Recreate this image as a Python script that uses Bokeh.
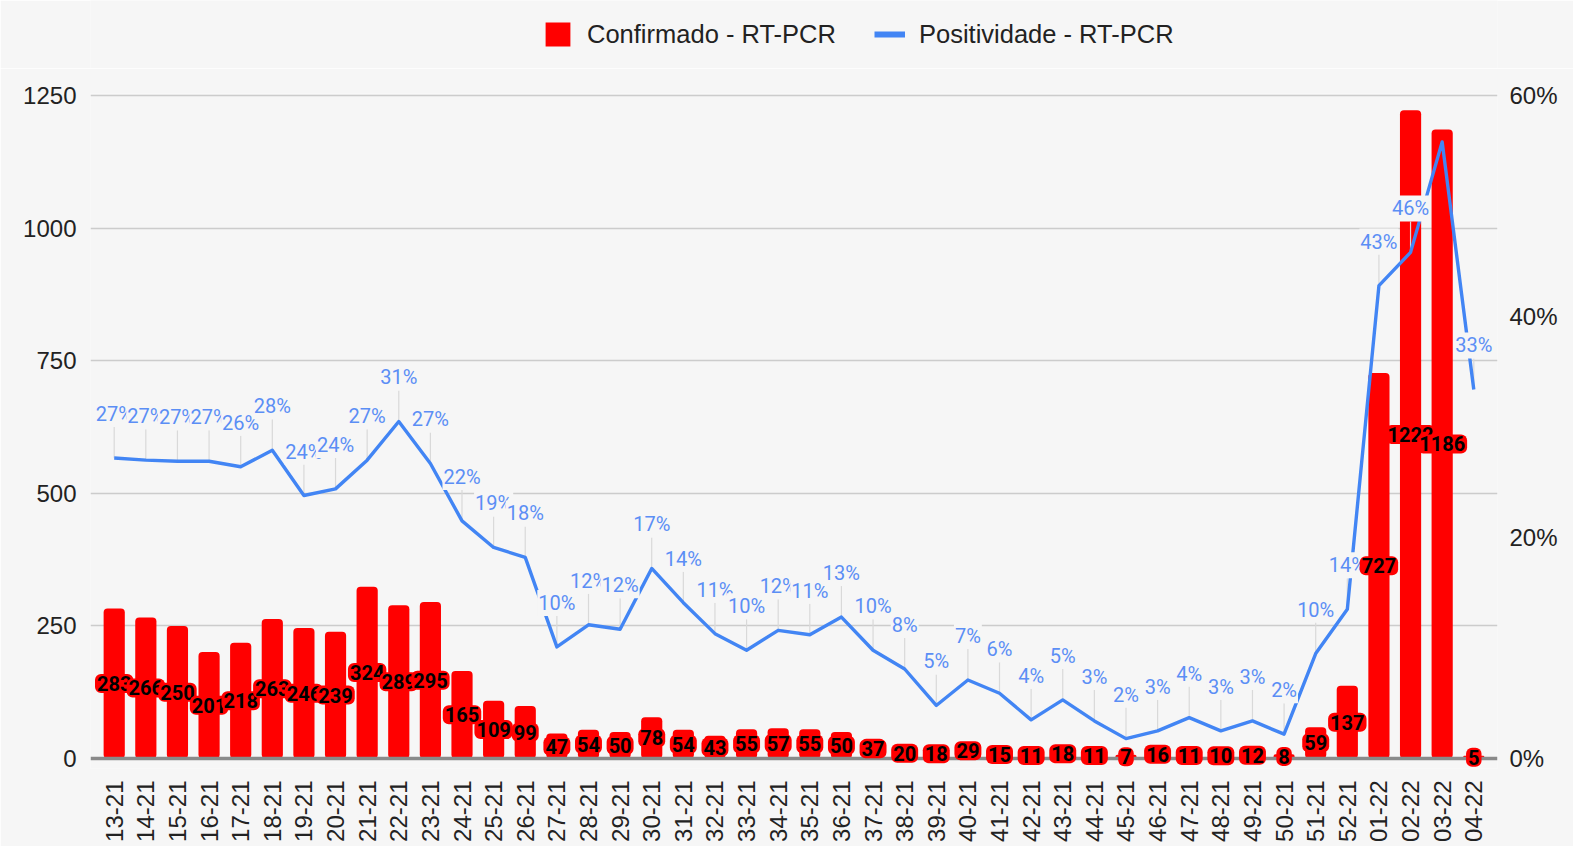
import math
from bokeh.plotting import figure
from bokeh.layouts import column
from bokeh.models import (ColumnDataSource, FactorRange, Range1d, LinearAxis, FixedTicker,
                          PrintfTickFormatter, Legend, LegendItem)
from bokeh.core.properties import value
from bokeh.embed import file_html
from bokeh.resources import INLINE

# ---------------- data ----------------
weeks = ["13-21", "14-21", "15-21", "16-21", "17-21", "18-21", "19-21", "20-21", "21-21", "22-21",
         "23-21", "24-21", "25-21", "26-21", "27-21", "28-21", "29-21", "30-21", "31-21", "32-21",
         "33-21", "34-21", "35-21", "36-21", "37-21", "38-21", "39-21", "40-21", "41-21", "42-21",
         "43-21", "44-21", "45-21", "46-21", "47-21", "48-21", "49-21", "50-21", "51-21", "52-21",
         "01-22", "02-22", "03-22", "04-22"]

confirmados = [283, 266, 250, 201, 218, 263, 246, 239, 324, 289,
               295, 165, 109, 99, 47, 54, 50, 78, 54, 43,
               55, 57, 55, 50, 37, 20, 18, 29, 15, 11,
               18, 11, 7, 16, 11, 10, 12, 8, 59, 137,
               727, 1222, 1186, 5]

positividade = [27.2, 27.0, 26.9, 26.9, 26.4, 27.9, 23.8, 24.4, 27.0, 30.5,
                26.7, 21.5, 19.1, 18.2, 10.1, 12.1, 11.7, 17.2, 14.1, 11.3,
                9.8, 11.6, 11.2, 12.8, 9.8, 8.1, 4.8, 7.1, 5.9, 3.5,
                5.3, 3.4, 1.8, 2.5, 3.7, 2.5, 3.4, 2.2, 9.5, 13.5,
                42.8, 45.8, 55.8, 33.4]

hidden_pct_labels = ["03-22"]

left_ticks = [0, 250, 500, 750, 1000, 1250]
right_ticks = [0, 20, 40, 60]

series_names = ["Confirmado - RT-PCR", "Positividade - RT-PCR"]

# ---------------- style ----------------
BG = "#f6f6f6"
RED = "#ff0000"
BLUE = "#4285f4"
LABEL_BLUE = "#5b8ef5"
AXIS_FONT = "Liberation Sans"
ANN_FONT = "Roboto"

W = 1573
LEG_H = 68
H = 778
PAD = 1.003            # tiny headroom so the top gridline is visible
EXTRA = 10             # px of frame below the baseline so small labels are not clipped
DATA_H = 665           # px from baseline to top of the frame
ML, MR, MT = 90, 76, 25
MB = H - MT - DATA_H - EXTRA
left_top = left_ticks[-1] * PAD
right_top = right_ticks[-1] * PAD
px_per_unit = DATA_H / left_top
px_per_pct = DATA_H / right_top
stem_px = 31

p = figure(x_range=FactorRange(*weeks, range_padding=0.25, range_padding_units="absolute"),
           y_range=Range1d(-EXTRA / px_per_unit, left_top),
           width=W, height=H, output_backend="svg", toolbar_location=None,
           min_border_left=ML, min_border_right=MR, min_border_top=MT, min_border_bottom=MB,
           background_fill_color=BG, border_fill_color=BG, outline_line_color=None)

p.extra_y_ranges = {"pct": Range1d(-EXTRA / px_per_pct, right_top)}

# grid
p.xgrid.grid_line_color = None
p.ygrid.ticker = FixedTicker(ticks=left_ticks[1:])
p.ygrid.grid_line_color = "#cccccc"
p.ygrid.grid_line_width = 1.6

# axes
for ax in [p.xaxis[0], p.yaxis[0]]:
    ax.axis_line_color = None
    ax.major_tick_line_color = None
    ax.minor_tick_line_color = None
    ax.major_label_text_font = AXIS_FONT
    ax.major_label_text_font_size = "24px"
    ax.major_label_text_color = "#222222"
p.yaxis[0].ticker = FixedTicker(ticks=left_ticks)
p.yaxis[0].major_label_standoff = 8
p.xaxis[0].major_label_orientation = math.pi / 2
p.xaxis[0].major_label_standoff = 16 - EXTRA

raxis = LinearAxis(y_range_name="pct", ticker=FixedTicker(ticks=right_ticks),
                   formatter=PrintfTickFormatter(format="%d%%"))
raxis.axis_line_color = None
raxis.major_tick_line_color = None
raxis.minor_tick_line_color = None
raxis.major_label_text_font = AXIS_FONT
raxis.major_label_text_font_size = "24px"
raxis.major_label_text_color = "#222222"
raxis.major_label_standoff = 6
p.add_layout(raxis, "right")

# bars
src = ColumnDataSource(dict(
    x=weeks, conf=confirmados, half=[v / 2 for v in confirmados],
    conf_lbl=[str(v) for v in confirmados],
))
p.vbar(x="x", top="conf", bottom=0, width=0.67, source=src, fill_color=RED, line_color=None,
       border_radius=4)

# baseline (glyph, so labels can be drawn above it)
p.hspan(y=[0], line_color="#8a8a8a", line_width=3.5)

# stems for positivity labels
stem_units = stem_px / px_per_pct
sx = [w for w in weeks if w not in hidden_pct_labels]
sy0 = [v for w, v in zip(weeks, positividade) if w not in hidden_pct_labels]
sy1 = [v + stem_units for v in sy0]
p.segment(x0=sx, y0=sy0, x1=sx, y1=sy1, y_range_name="pct", line_color="#d9d9d9", line_width=1.2)

# line
p.line(x=weeks, y=positividade, y_range_name="pct", line_color=BLUE, line_width=3.4,
       line_join="round")

# positivity labels
pct_src = ColumnDataSource(dict(
    x=sx, y=sy0,
    lbl=[f"{int(v + 0.5)}%" for v in sy0],
))
p.text(x="x", y="y", text="lbl", source=pct_src, y_range_name="pct",
       y_offset=-44, text_align="center", text_baseline="middle",
       text_font=value(ANN_FONT), text_font_size="20px", text_color=LABEL_BLUE,
       background_fill_color=BG, padding=1)

# bar value labels
p.text(x="x", y="half", text="conf_lbl", source=src,
       text_align="center", text_baseline="middle",
       text_font=value(ANN_FONT), text_font_size="20px", text_font_style="bold",
       text_color="#000000", background_fill_color=RED, padding=2, border_radius=6)

# ---------------- legend strip ----------------
lf = figure(width=W, height=LEG_H, x_range=(0, 1), y_range=(0, 1),
            output_backend="svg", toolbar_location=None, min_border=0,
            background_fill_color=BG, border_fill_color=BG, outline_line_color=None)
lf.axis.visible = False
lf.grid.grid_line_color = None
# swatch renderers placed outside the visible range (only their legend swatch shows)
dummy_bar = lf.vbar(x=[-10], top=[-10], width=0.5, fill_color=RED, line_color=None,
                    border_radius=3)
dummy_line = lf.line(x=[-10, -9], y=[-10, -10], line_color=BLUE, line_width=6)
legend = Legend(items=[LegendItem(label=series_names[0], renderers=[dummy_bar]),
                       LegendItem(label=series_names[1], renderers=[dummy_line])],
                orientation="horizontal", location=(452, 19),
                padding=0, margin=0, spacing=38, label_standoff=14,
                glyph_width=31, glyph_height=30,
                label_text_font=AXIS_FONT, label_text_font_size="25.5px",
                label_text_color="#222222",
                background_fill_alpha=0, border_line_color=None)
lf.add_layout(legend, "center")

layout = column(lf, p, spacing=0)
open("out.html", "w").write(file_html(layout, INLINE))
